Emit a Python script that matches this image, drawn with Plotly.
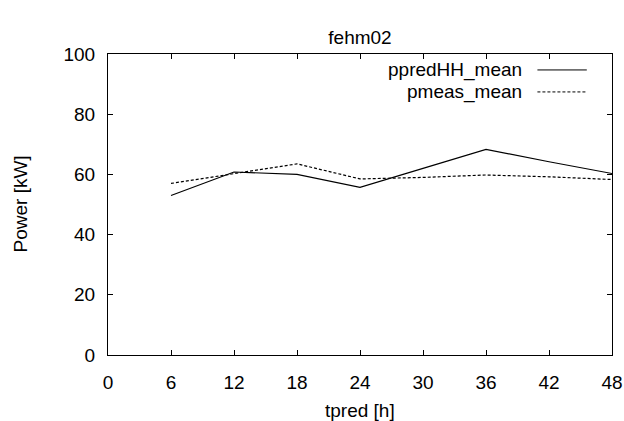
import plotly.graph_objects as go

tpred = [6, 12, 18, 24, 30, 36, 42, 48]
ppredHH_mean = [53, 60.8, 60, 55.7, 62, 68.3, 64.2, 60.3]
pmeas_mean = [57, 60.2, 63.5, 58.5, 59, 59.8, 59.2, 58.3]
x_ticks = [0, 6, 12, 18, 24, 30, 36, 42, 48]
y_ticks = [0, 20, 40, 60, 80, 100]

series = [("ppredHH_mean", ppredHH_mean, "solid"), ("pmeas_mean", pmeas_mean, "3px,2px")]

fig = go.Figure()
for name, vals, dash in series:
    fig.add_trace(go.Scatter(x=tpred, y=vals, mode="lines", name=name,
                             line=dict(color="black", width=1.2, dash=dash)))

FS = 19
font = dict(family="Liberation Sans, Arial, sans-serif", size=FS, color="black")
axis_common = dict(showgrid=False, zeroline=False, showline=True, linecolor="black", linewidth=1,
                   mirror="allticks", ticks="inside", ticklen=5, tickcolor="black",
                   tickfont=font, automargin=False)
fig.update_layout(
    width=624, height=421,
    margin=dict(l=108, r=12, t=54, b=66),
    paper_bgcolor="white", plot_bgcolor="white",
    showlegend=False,
    font=font,
    title=dict(text="fehm02", xref="paper", x=0.5, xanchor="center",
               yref="container", y=1 - 37 / 421, yanchor="middle", font=font),
    xaxis=dict(range=[0, 48], tickvals=x_ticks, ticklabelstandoff=10, **axis_common),
    yaxis=dict(range=[0, 100], tickvals=y_ticks, ticklabelstandoff=8, **axis_common),
)

fig.add_annotation(xref="paper", yref="paper", x=0.5, y=-(410 - 355) / 301, text="tpred [h]",
                   showarrow=False, xanchor="center", yanchor="middle", font=font)
fig.add_annotation(xref="paper", yref="paper", x=-(108 - 20) / 504, y=0.5, text="Power [kW]",
                   textangle=-90, showarrow=False, xanchor="center", yanchor="middle", font=font)

# gnuplot-style legend: right-aligned text with line sample on the right
for i, (name, vals, dash) in enumerate(series):
    ypos = 0.947 - i * 0.073
    fig.add_annotation(xref="paper", yref="paper", x=0.826, y=ypos, text=name, showarrow=False,
                       xanchor="right", yanchor="middle", font=font)
    fig.add_shape(type="line", xref="paper", yref="paper", x0=0.852, x1=0.950, y0=ypos, y1=ypos,
                  line=dict(color="black", width=1, dash=dash))

fig.write_html("out.html")
